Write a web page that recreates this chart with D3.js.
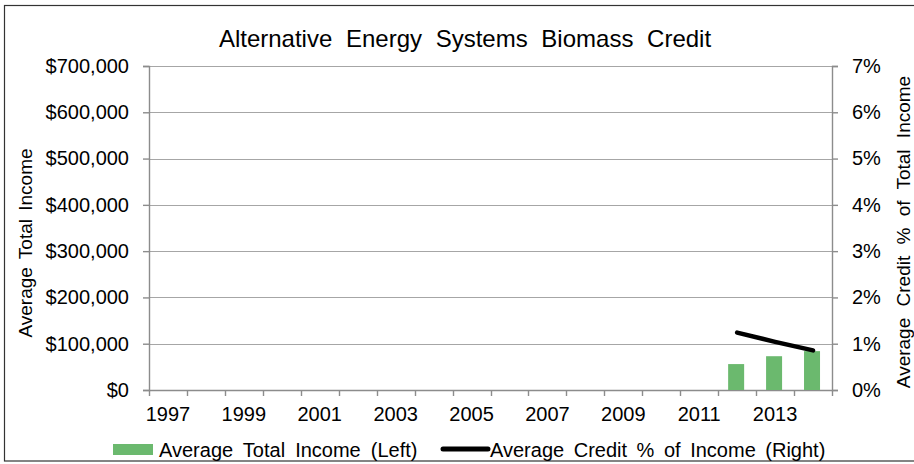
<!DOCTYPE html>
<html><head><meta charset="utf-8">
<script src="https://cdn.jsdelivr.net/npm/d3@7"></script>
<style>
body{margin:0;background:#fff;}
text{font-family:"Liberation Sans",Arial,sans-serif;fill:#000;}
</style></head>
<body><svg id="c" width="914" height="464"></svg>
<script>
const years = ["1997","1998","1999","2000","2001","2002","2003","2004","2005","2006","2007","2008","2009","2010","2011","2012","2013","2014"];
const incomeYears = ["2012","2013","2014"];
const incomeValues = [56000, 73000, 84000];
const creditYears = ["2012","2013","2014"];
const creditValues = [0.0124, 0.0104, 0.00855];
const leftTicks = [0,100000,200000,300000,400000,500000,600000,700000];
const rightTicks = [0,0.01,0.02,0.03,0.04,0.05,0.06,0.07];
const labelYears = ["1997","1999","2001","2003","2005","2007","2009","2011","2013"];

const FF = "'Liberation Sans', Arial, sans-serif";
const svg = d3.select("#c");
const L=149,R=832,T=66,B=390;
svg.append("rect").attr("x",4.5).attr("y",5.5).attr("width",920).attr("height",455.5)
  .attr("fill","#fff").attr("stroke","#333").attr("stroke-width",1.2);

const x = d3.scaleBand().domain(years).range([L,R]);
const yL = d3.scaleLinear().domain([0,700000]).range([B,T]);
const yR = d3.scaleLinear().domain([0,0.07]).range([B,T]);

// gridlines
svg.append("g").selectAll("line").data(leftTicks.slice(1)).join("line")
  .attr("x1",L).attr("x2",R).attr("y1",d=>Math.round(yL(d))+0.5).attr("y2",d=>Math.round(yL(d))+0.5)
  .attr("stroke","#a6a6a6").attr("stroke-width",1.2);

// left axis
const fmt = d=>"$"+d3.format(",")(d);
const gl = svg.append("g").attr("transform",`translate(${L},0)`)
  .call(d3.axisLeft(yL).tickValues(leftTicks).tickFormat(fmt).tickSize(6).tickPadding(14));
gl.selectAll("path,line").attr("stroke","#8c8c8c").attr("stroke-width",1.4);
gl.selectAll("text").style("font-size","20px").style("font-family",FF).attr("fill","#000");

// right axis
const gr = svg.append("g").attr("transform",`translate(${R},0)`)
  .call(d3.axisRight(yR).tickValues(rightTicks).tickFormat(d3.format(".0%")).tickSize(6).tickPadding(14));
gr.selectAll("path,line").attr("stroke","#8c8c8c").attr("stroke-width",1.4);
gr.selectAll("text").style("font-size","20px").style("font-family",FF).attr("fill","#000");

// bottom axis
const gb = svg.append("g").attr("transform",`translate(0,${B})`)
  .call(d3.axisBottom(x).tickSize(0).tickFormat(d=>labelYears.includes(d)?d:"").tickPadding(17));
gb.select("path").attr("stroke","#8c8c8c").attr("stroke-width",1.4);
gb.selectAll("text").style("font-size","20px").style("font-family",FF).attr("fill","#000");
// category boundary ticks
const bounds = years.map(d=>x(d)).concat([R]);
svg.append("g").selectAll("line").data(bounds).join("line")
  .attr("x1",d=>Math.round(d)+0.5).attr("x2",d=>Math.round(d)+0.5).attr("y1",B).attr("y2",B+6)
  .attr("stroke","#8c8c8c").attr("stroke-width",1.4);

// bars
const bw = 16;
svg.append("g").selectAll("rect").data(incomeYears).join("rect")
  .attr("x",(d)=>x(d)+x.bandwidth()/2-bw/2-1).attr("width",bw)
  .attr("y",(d,i)=>yL(incomeValues[i])).attr("height",(d,i)=>B-yL(incomeValues[i]))
  .attr("fill","#6bb96e");

// line
const line = d3.line().x(d=>x(d[0])+x.bandwidth()/2).y(d=>yR(d[1]));
svg.append("path").datum(creditYears.map((d,i)=>[d,creditValues[i]]))
  .attr("d",line).attr("fill","none").attr("stroke","#000").attr("stroke-width",4.5).attr("stroke-linecap","round");

// title
svg.append("text").attr("x",465).attr("y",47).attr("text-anchor","middle")
  .style("font-size","24px").style("word-spacing","7px").text("Alternative Energy Systems Biomass Credit");

// axis titles
svg.append("text").attr("transform","translate(32,243) rotate(-90)").attr("text-anchor","middle")
  .style("font-size","19px").style("word-spacing","3px").text("Average Total Income");
svg.append("text").attr("transform","translate(910,232) rotate(-90)").attr("text-anchor","middle")
  .style("font-size","19px").style("word-spacing","6px").text("Average Credit % of Total Income");

// legend
svg.append("rect").attr("x",113).attr("y",444).attr("width",40).attr("height",11).attr("fill","#6bb96e");
svg.append("text").attr("x",159).attr("y",457).style("font-size","20px").style("word-spacing","4.5px").text("Average Total Income (Left)");
svg.append("line").attr("x1",443).attr("x2",488).attr("y1",449).attr("y2",449).attr("stroke","#000").attr("stroke-width",5).attr("stroke-linecap","round");
svg.append("text").attr("x",490).attr("y",457).style("font-size","20px").style("word-spacing","4px").text("Average Credit % of Income (Right)");
</script></body></html>
